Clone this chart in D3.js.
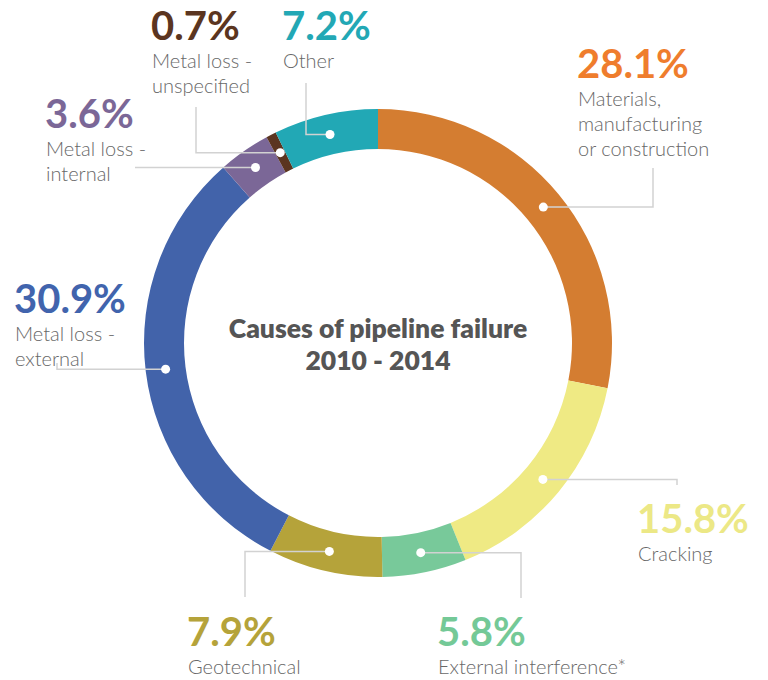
<!DOCTYPE html>
<html>
<head>
<meta charset="utf-8">
<script src="https://cdn.jsdelivr.net/npm/d3@7"></script>
<style>
  body { margin: 0; background: #fff; }
  svg { display: block; }
  .pct { font-family: Lato, "Open Sans", sans-serif; font-weight: 700; font-size: 40px; }
  .lbl { font-family: Lato, "Open Sans", sans-serif; font-weight: 300; font-size: 20px; fill: #686868; }
  .title { font-family: Lato, "Open Sans", sans-serif; font-weight: 800; font-size: 26.5px; fill: #555; }
</style>
</head>
<body>
<div id="chart"></div>
<script>
/*
 * Data
 *****************************/
const causes = ["Materials, manufacturing or construction", "Cracking", "External interference*",
  "Geotechnical", "Metal loss - external", "Metal loss - internal", "Metal loss - unspecified", "Other"];
const shares = [28.1, 15.8, 5.8, 7.9, 30.9, 3.6, 0.7, 7.2];
const labelLines = [
  ["Materials,", "manufacturing", "or construction"],
  ["Cracking"],
  ["External interference*"],
  ["Geotechnical"],
  ["Metal loss -", "external"],
  ["Metal loss -", "internal"],
  ["Metal loss -", "unspecified"],
  ["Other"]
];
const sliceColors = ["#d47d31", "#efea84", "#78c99a", "#b5a33a", "#4263aa", "#7b6797", "#5b3520", "#22a8b5"];
const pctColors = ["#ef7d2d", "#ece886", "#74c997", "#b5a33a", "#4164ad", "#7b6797", "#5b3520", "#22a8b5"];

/*
 * Layout
 *****************************/
const W = 768, H = 680;
const cx = 378, cy = 343, rOuter = 234, rInner = 194;
// label anchor (x, baseline of percent) and the elbow of its leader line
const labelPos = [
  {x: 577, y: 78,  elbow: [653, 168]},
  {x: 637, y: 533, elbow: [677, 485]},
  {x: 437, y: 646, elbow: [521, 598]},
  {x: 187, y: 646, elbow: [245, 597]},
  {x: 14,  y: 313, elbow: [57, 363]},
  {x: 45,  y: 128, elbow: [135, null]},
  {x: 151, y: 40,  elbow: [196, 107]},
  {x: 282, y: 40,  elbow: [306, 83]}
];

const data = causes.map((c, i) => ({name: c, value: shares[i], lines: labelLines[i], i}));

const svg = d3.select("#chart").append("svg")
  .attr("width", W).attr("height", H);

const pie = d3.pie().sort(null).value(d => d.value);
const arc = d3.arc().innerRadius(rInner).outerRadius(rOuter);
const arcs = pie(data);

const g = svg.append("g").attr("transform", `translate(${cx},${cy})`);

g.selectAll("path.slice")
  .data(arcs)
  .enter()
  .append("path")
  .attr("class", "slice")
  .attr("d", arc)
  .attr("fill", d => sliceColors[d.data.i]);

// leader lines
arcs.forEach(d => {
  const [dx, dy] = arc.centroid(d);
  const px = cx + dx, py = cy + dy;
  const el = labelPos[d.data.i].elbow;
  let pts = [[px, py], [el[0], py]];
  if (el[1] !== null) pts.push([el[0], el[1]]);
  svg.append("path")
    .attr("d", d3.line()(pts))
    .attr("fill", "none")
    .attr("stroke", "#d2d2d2")
    .attr("stroke-width", 1.5);
  svg.append("circle")
    .attr("cx", px).attr("cy", py).attr("r", 4.5)
    .attr("fill", "#fff");
});

// labels
data.forEach(d => {
  const p = labelPos[d.i];
  svg.append("text")
    .attr("class", "pct")
    .attr("x", p.x).attr("y", p.y)
    .attr("fill", pctColors[d.i])
    .text(d.value.toFixed(1) + "%");
  d.lines.forEach((ln, k) => {
    svg.append("text")
      .attr("class", "lbl")
      .attr("x", p.x + 1).attr("y", p.y + 28 + k * 25)
      .text(ln);
  });
});

// centre title
svg.append("text").attr("class", "title")
  .attr("x", cx).attr("y", 338).attr("text-anchor", "middle")
  .text("Causes of pipeline failure");
svg.append("text").attr("class", "title")
  .attr("x", cx).attr("y", 370).attr("text-anchor", "middle")
  .text("2010 - 2014");
</script>
</body>
</html>
